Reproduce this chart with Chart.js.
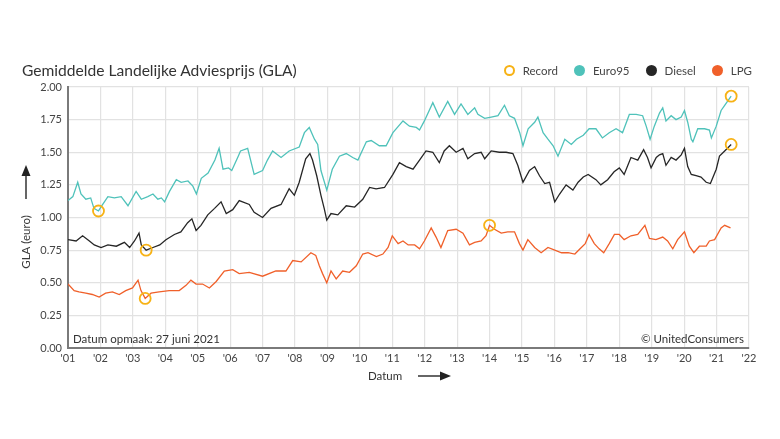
<!DOCTYPE html>
<html>
<head>
<meta charset="utf-8">
<script src="https://cdn.jsdelivr.net/npm/chart.js@4"></script>
<style>
  body { margin: 0; background: #fff; font-family: Lato, "Open Sans", sans-serif; }
  #wrap { position: relative; width: 780px; height: 439px; }
  #c { position: absolute; left: 0; top: 0; }
  .txt { position: absolute; color: #333; white-space: nowrap; }
  #title { left: 22px; top: 61px; font-size: 15.6px; }
  #legend { position: absolute; right: 28px; top: 64px; font-size: 11.5px; color: #444; display: flex; align-items: center; }
  #legend span.dot { display: inline-block; width: 11px; height: 11px; border-radius: 50%; margin: 0 8px 0 16px; box-sizing: border-box; }
  #xlab { left: 368px; top: 369px; font-size: 11.5px; }
  #stamp { left: 73px; top: 332px; font-size: 11.5px; }
  #copy { right: 36px; top: 332px; font-size: 11.5px; }
  svg { position: absolute; left: 0; top: 0; }
</style>
</head>
<body>
<div id="wrap">
  <canvas id="c" width="780" height="439"></canvas>
  <div class="txt" id="title">Gemiddelde Landelijke Adviesprijs (GLA)</div>
  <div id="legend"></div>
  <div class="txt" id="xlab">Datum</div>
  <div class="txt" id="stamp">Datum opmaak: 27 juni 2021</div>
  <div class="txt" id="copy">© UnitedConsumers</div>
  <svg width="780" height="439">
    <line x1="26" y1="199" x2="26" y2="175" stroke="#333" stroke-width="1.5"/>
    <polygon points="26,165 21.5,176 30.5,176" fill="#222"/>
    <line x1="418" y1="376" x2="442" y2="376" stroke="#333" stroke-width="1.5"/>
    <polygon points="451,376 440,371.5 440,380.5" fill="#222"/>
  </svg>
</div>
<script>
// year labels on the x axis
const tickLabels = ["'01","'02","'03","'04","'05","'06","'07","'08","'09","'10","'11",
  "'12","'13","'14","'15","'16","'17","'18","'19","'20","'21","'22"];

const seriesNames = ['Record', 'Euro95', 'Diesel', 'LPG'];
const yTitle = 'GLA (euro)';

// [year, price in euro]
const euro95 = [
  [2001.00,1.13],[2001.15,1.16],[2001.30,1.27],[2001.40,1.18],[2001.55,1.14],[2001.70,1.15],
  [2001.80,1.07],[2001.94,1.05],[2002.07,1.10],[2002.23,1.16],[2002.43,1.15],[2002.64,1.16],
  [2002.85,1.09],[2003.10,1.20],[2003.26,1.14],[2003.46,1.16],[2003.62,1.18],[2003.77,1.14],
  [2003.88,1.15],[2003.98,1.12],[2004.13,1.20],[2004.34,1.29],[2004.49,1.27],[2004.70,1.28],
  [2004.85,1.24],[2004.96,1.18],[2005.11,1.30],[2005.32,1.34],[2005.53,1.44],[2005.66,1.53],
  [2005.78,1.37],[2005.95,1.38],[2006.05,1.36],[2006.25,1.47],[2006.32,1.51],[2006.54,1.53],
  [2006.74,1.33],[2007.00,1.36],[2007.15,1.44],[2007.31,1.51],[2007.57,1.46],[2007.82,1.51],
  [2008.13,1.54],[2008.29,1.65],[2008.44,1.69],[2008.60,1.60],[2008.70,1.56],[2008.80,1.36],
  [2008.98,1.21],[2009.15,1.37],[2009.37,1.47],[2009.58,1.49],[2009.78,1.46],[2009.94,1.44],
  [2010.20,1.58],[2010.35,1.59],[2010.60,1.55],[2010.81,1.55],[2011.02,1.65],[2011.33,1.74],
  [2011.53,1.70],[2011.74,1.69],[2011.84,1.67],[2011.99,1.74],[2012.25,1.88],[2012.45,1.77],
  [2012.71,1.89],[2012.92,1.79],[2013.12,1.87],[2013.33,1.79],[2013.54,1.84],[2013.64,1.79],
  [2013.85,1.76],[2014.05,1.77],[2014.26,1.78],[2014.46,1.86],[2014.61,1.78],[2014.77,1.76],
  [2014.93,1.65],[2015.03,1.55],[2015.19,1.68],[2015.39,1.73],[2015.49,1.77],[2015.65,1.65],
  [2015.80,1.60],[2015.96,1.55],[2016.11,1.47],[2016.32,1.60],[2016.52,1.56],[2016.68,1.60],
  [2016.89,1.63],[2017.07,1.68],[2017.28,1.68],[2017.48,1.61],[2017.69,1.65],[2017.90,1.68],
  [2018.10,1.65],[2018.31,1.79],[2018.52,1.79],[2018.72,1.78],[2018.83,1.70],[2018.95,1.60],
  [2019.08,1.70],[2019.24,1.80],[2019.34,1.84],[2019.44,1.74],[2019.60,1.78],[2019.75,1.75],
  [2019.91,1.77],[2020.01,1.82],[2020.11,1.73],[2020.22,1.60],[2020.27,1.58],[2020.42,1.68],
  [2020.63,1.68],[2020.78,1.67],[2020.84,1.61],[2020.99,1.70],[2021.14,1.82],[2021.25,1.86],
  [2021.45,1.93]
];

const diesel = [
  [2001.00,0.83],[2001.25,0.82],[2001.45,0.86],[2001.66,0.82],[2001.81,0.79],[2002.02,0.77],
  [2002.23,0.79],[2002.49,0.78],[2002.74,0.81],[2002.90,0.77],[2003.05,0.82],[2003.19,0.88],
  [2003.26,0.79],[2003.41,0.75],[2003.62,0.77],[2003.83,0.79],[2004.02,0.83],[2004.28,0.87],
  [2004.48,0.89],[2004.69,0.96],[2004.82,0.99],[2004.95,0.90],[2005.10,0.94],[2005.31,1.02],
  [2005.52,1.07],[2005.72,1.12],[2005.88,1.03],[2006.08,1.06],[2006.28,1.13],[2006.59,1.10],
  [2006.74,1.04],[2007.00,1.00],[2007.26,1.07],[2007.57,1.10],[2007.82,1.22],[2007.98,1.17],
  [2008.13,1.27],[2008.33,1.45],[2008.46,1.49],[2008.54,1.44],[2008.67,1.32],[2008.80,1.17],
  [2008.90,1.07],[2008.98,0.98],[2009.11,1.03],[2009.32,1.02],[2009.58,1.09],[2009.84,1.08],
  [2010.09,1.14],[2010.30,1.23],[2010.50,1.22],[2010.76,1.23],[2011.02,1.33],[2011.22,1.42],
  [2011.43,1.39],[2011.64,1.37],[2011.84,1.44],[2012.04,1.51],[2012.25,1.50],[2012.45,1.42],
  [2012.60,1.51],[2012.76,1.55],[2012.97,1.50],[2013.18,1.53],[2013.33,1.45],[2013.54,1.49],
  [2013.74,1.50],[2013.85,1.45],[2014.05,1.51],[2014.30,1.50],[2014.51,1.50],[2014.72,1.49],
  [2014.87,1.40],[2015.03,1.27],[2015.23,1.36],[2015.39,1.39],[2015.54,1.32],[2015.70,1.26],
  [2015.85,1.27],[2016.01,1.12],[2016.16,1.18],[2016.36,1.25],[2016.57,1.21],[2016.73,1.27],
  [2016.89,1.31],[2017.04,1.33],[2017.28,1.29],[2017.43,1.25],[2017.64,1.29],[2017.84,1.35],
  [2018.00,1.38],[2018.15,1.33],[2018.36,1.46],[2018.57,1.44],[2018.75,1.52],[2018.87,1.46],
  [2018.98,1.38],[2019.14,1.46],[2019.24,1.48],[2019.34,1.49],[2019.44,1.40],[2019.60,1.46],
  [2019.75,1.44],[2019.91,1.48],[2020.01,1.53],[2020.11,1.39],[2020.22,1.33],[2020.37,1.32],
  [2020.52,1.31],[2020.68,1.27],[2020.81,1.26],[2020.99,1.37],[2021.09,1.47],[2021.25,1.51],
  [2021.45,1.56]
];

const lpg = [
  [2001.00,0.49],[2001.19,0.44],[2001.34,0.43],[2001.55,0.42],[2001.75,0.41],[2001.96,0.39],
  [2002.16,0.42],[2002.37,0.43],[2002.58,0.41],[2002.78,0.44],[2002.99,0.46],[2003.16,0.52],
  [2003.25,0.44],[2003.38,0.38],[2003.56,0.42],[2003.81,0.43],[2004.12,0.44],[2004.43,0.44],
  [2004.64,0.48],[2004.79,0.52],[2004.95,0.49],[2005.15,0.49],[2005.36,0.46],[2005.57,0.51],
  [2005.82,0.59],[2006.08,0.60],[2006.28,0.57],[2006.59,0.58],[2007.00,0.55],[2007.41,0.59],
  [2007.72,0.59],[2007.93,0.67],[2008.19,0.66],[2008.49,0.73],[2008.64,0.71],[2008.75,0.63],
  [2008.85,0.57],[2008.98,0.50],[2009.11,0.59],[2009.27,0.53],[2009.47,0.59],[2009.68,0.58],
  [2009.89,0.63],[2010.09,0.72],[2010.25,0.73],[2010.51,0.70],[2010.71,0.72],[2010.87,0.77],
  [2011.00,0.86],[2011.18,0.80],[2011.33,0.82],[2011.49,0.79],[2011.69,0.79],[2011.84,0.76],
  [2011.99,0.82],[2012.20,0.92],[2012.35,0.85],[2012.50,0.77],[2012.71,0.90],[2012.97,0.91],
  [2013.18,0.88],[2013.38,0.79],[2013.54,0.81],[2013.74,0.82],[2013.89,0.86],[2014.00,0.94],
  [2014.15,0.91],[2014.36,0.88],[2014.56,0.89],[2014.77,0.89],[2014.92,0.80],[2015.03,0.75],
  [2015.18,0.83],[2015.39,0.77],[2015.59,0.73],[2015.80,0.77],[2016.01,0.75],[2016.22,0.73],
  [2016.42,0.73],[2016.63,0.72],[2016.79,0.76],[2016.95,0.80],[2017.07,0.87],[2017.23,0.80],
  [2017.38,0.76],[2017.52,0.73],[2017.69,0.80],[2017.85,0.87],[2018.00,0.87],[2018.15,0.83],
  [2018.36,0.86],[2018.57,0.87],[2018.79,0.94],[2018.93,0.84],[2019.13,0.83],[2019.34,0.85],
  [2019.49,0.82],[2019.65,0.76],[2019.80,0.83],[2020.01,0.89],[2020.16,0.78],[2020.30,0.73],
  [2020.47,0.78],[2020.68,0.78],[2020.78,0.82],[2020.94,0.83],[2021.14,0.92],[2021.25,0.94],
  [2021.43,0.92]
];

// circled record points
const records = [
  [2001.94,1.05],[2021.45,1.93],[2003.41,0.75],[2021.45,1.56],[2003.38,0.38],[2014.00,0.94]
];

const colors = ['#f7b215', '#4fc2ba', '#262626', '#f0602a'];

const toXY = arr => arr.map(p => ({x: p[0], y: p[1]}));

// html legend
const legend = document.getElementById('legend');
seriesNames.forEach((name, i) => {
  const dot = document.createElement('span');
  dot.className = 'dot';
  if (i === 0) { dot.style.border = '2px solid ' + colors[0]; }
  else { dot.style.background = colors[i]; }
  legend.appendChild(dot);
  const t = document.createElement('span');
  t.textContent = name;
  legend.appendChild(t);
});

const lineSet = (label, arr, color, order) => ({
  label: label,
  data: toXY(arr),
  borderColor: color,
  backgroundColor: color,
  borderWidth: 1.3,
  pointRadius: 0,
  tension: 0,
  order: order
});

// rotated y title, drawn left of the tick labels
const yTitlePlugin = {
  id: 'yTitle',
  afterDraw(chart) {
    const ctx = chart.ctx;
    ctx.save();
    ctx.translate(26, 242);
    ctx.rotate(-Math.PI / 2);
    ctx.font = '11.5px Lato';
    ctx.fillStyle = '#3a3a3a';
    ctx.textAlign = 'center';
    ctx.textBaseline = 'middle';
    ctx.fillText(yTitle, 0, 0);
    ctx.restore();
  }
};

new Chart(document.getElementById('c').getContext('2d'), {
  type: 'line',
  data: {
    datasets: [
      {
        label: 'Record',
        data: toXY(records),
        showLine: false,
        pointRadius: 5.5,
        pointBorderWidth: 1.8,
        pointBorderColor: colors[0],
        pointBackgroundColor: 'rgba(0,0,0,0)',
        order: 0
      },
      lineSet('Euro95', euro95, colors[1], 3),
      lineSet('Diesel', diesel, colors[2], 2),
      lineSet('LPG', lpg, colors[3], 1)
    ]
  },
  plugins: [yTitlePlugin],
  options: {
    responsive: false,
    animation: false,
    layout: { padding: { top: 87, right: 31, left: 0, bottom: 0 } },
    plugins: { legend: { display: false }, tooltip: { enabled: false } },
    scales: {
      x: {
        type: 'linear',
        min: 2001,
        max: 2022,
        afterFit: s => { s.height = 91; },
        afterBuildTicks: s => { s.ticks = tickLabels.map((l, i) => ({ value: 2001 + i })); },
        ticks: {
          autoSkip: false,
          maxRotation: 0,
          padding: 4,
          color: '#444',
          font: { family: 'Lato', size: 11 },
          callback: (v, i) => tickLabels[i]
        },
        grid: { color: '#e2e2e2', lineWidth: 1.2, drawTicks: false },
        border: { color: '#7a7a7a', width: 2 }
      },
      y: {
        min: 0,
        max: 2,
        afterFit: s => { s.width = 68; },
        ticks: {
          stepSize: 0.25,
          padding: 6,
          color: '#444',
          font: { family: 'Lato', size: 11 },
          callback: v => v.toFixed(2)
        },
        grid: { color: '#e2e2e2', lineWidth: 1.2, drawTicks: false },
        border: { color: '#7a7a7a', width: 2 }
      }
    }
  }
});
</script>
</body>
</html>
